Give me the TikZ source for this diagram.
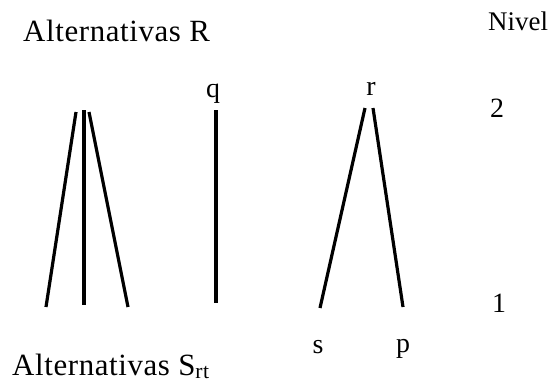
\documentclass[tikz,border=0pt]{standalone}
\usepackage{fontspec}
\setmainfont{Liberation Serif}
\usetikzlibrary{positioning}
\tikzset{branch/.style={line width=3.2bp, black},
         lbl/.style={font=\fontsize{28}{32}\selectfont, inner sep=0pt, anchor=base},
         ttl/.style={font=\fontsize{31}{36}\selectfont\addfontfeatures{LetterSpace=2},
                     inner sep=0pt, anchor=base west}}

\begin{document}
\begin{tikzpicture}[x=1bp, y=-1bp]
  \useasboundingbox (0,0) rectangle (552,383);

  % ── titles ─────────────────────────────────────────────────────────────────
  \node[ttl] (altR)  at (23,41)  {Alternativas R};
  \node[ttl] (altS)  at (12,375) {Alternativas S\textsubscript{rt}};
  \node[lbl, anchor=base west, font=\fontsize{27}{32}\selectfont] (nivel) at (488,30) {Nivel};

  % ── level numbers ──────────────────────────────────────────────────────────
  \node[lbl] (lvtwo) at (497,117) {2};
  \node[lbl] (lvone) at (499,312) {1};

  % ── labels of the alternatives ─────────────────────────────────────────────
  \node[lbl] (q) at (213,97)  {q};
  \node[lbl] (r) at (371,95)  {r};
  \node[lbl] (s) at (318,353) {s};
  \node[lbl] (p) at (403,352) {p};

  % ── end points of the branches ─────────────────────────────────────────────
  \coordinate (fanLt) at (76,112);  \coordinate (fanLb) at (46,307);
  \coordinate (fanMt) at (84,110);  \coordinate (fanMb) at (84,305);
  \coordinate (fanRt) at (89,112);  \coordinate (fanRb) at (128,307);
  \coordinate (qt)    at (216,110); \coordinate (qb)    at (216,303);
  \coordinate (rl)    at (365,108); \coordinate (rr)    at (373,108);
  \coordinate (sl)    at (320,308); \coordinate (pr)    at (403,307);

  % ── branches ───────────────────────────────────────────────────────────────
  \draw[branch] (fanLt) -- (fanLb);
  \draw[branch] (fanMt) -- (fanMb);
  \draw[branch] (fanRt) -- (fanRb);
  \draw[branch] (qt) -- (qb);
  \draw[branch] (rl) -- (sl);
  \draw[branch] (rr) -- (pr);

\end{tikzpicture}
\end{document}
